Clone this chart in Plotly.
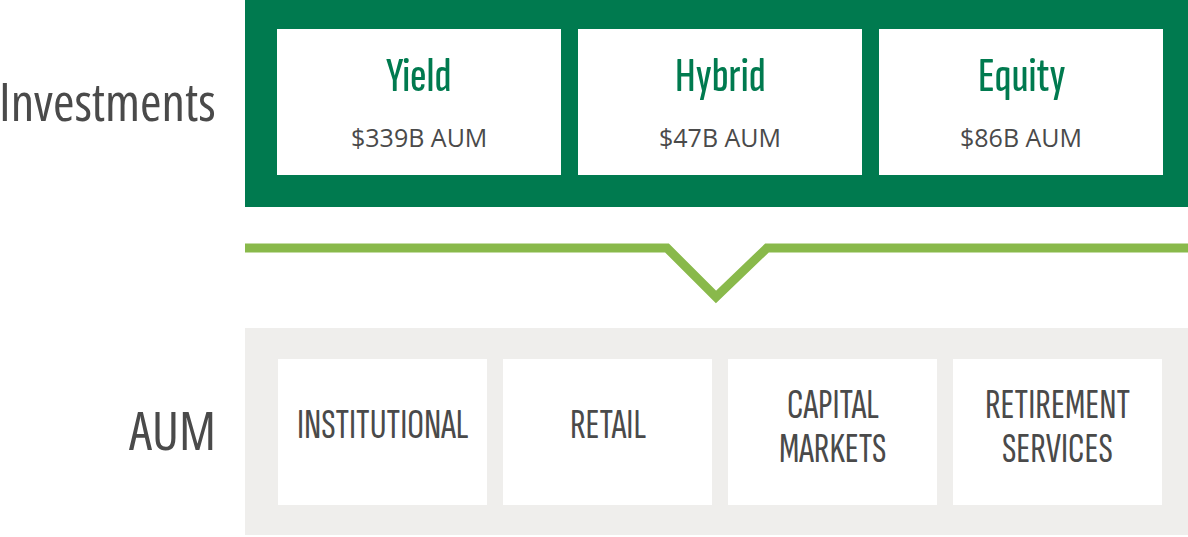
import plotly.graph_objects as go

# ---- data ----
row_labels = ["Investments", "AUM"]
invest_titles = ["Yield", "Hybrid", "Equity"]
invest_aum = ["$339B AUM", "$47B AUM", "$86B AUM"]
channels = ["INSTITUTIONAL", "RETAIL", "CAPITAL<br>MARKETS", "RETIREMENT<br>SERVICES"]

# ---- layout constants (pixels) ----
W, H = 1188, 537
DARK = "#007a4f"
LIGHT = "#89b94b"
GRAY = "#efeeec"
TXT = "#4a4a4a"
COND = "Sofia Sans Extra Condensed, Pathway Gothic One, Roboto Condensed, sans-serif"
HUM = "Open Sans, Noto Sans, sans-serif"

fig = go.Figure()
shapes = []
ann = []

# top green panel
shapes.append(dict(type="rect", x0=245, x1=1188, y0=0, y1=207, fillcolor=DARK, line_width=0, layer="below"))
top_x0 = [277, 578, 879]
box_w = 284
for i, (t, a) in enumerate(zip(invest_titles, invest_aum)):
    x0 = top_x0[i]
    shapes.append(dict(type="rect", x0=x0, x1=x0 + box_w, y0=29, y1=175, fillcolor="white", line_width=0))
    cx = x0 + box_w / 2
    ann.append(dict(x=cx, y=76, text=t, showarrow=False, xanchor="center", yanchor="middle",
                    font=dict(family=COND, size=49, color=DARK, weight=500)))
    ann.append(dict(x=cx, y=137, text=a, showarrow=False, xanchor="center", yanchor="middle",
                    font=dict(family=HUM, size=25, color=TXT)))

# chevron connector
line_y = 248
apex_x, apex_y = 716, 297
fig.add_trace(go.Scatter(
    x=[245, apex_x - (apex_y - line_y), apex_x, apex_x + (apex_y - line_y) + 2, 1188],
    y=[line_y, line_y, apex_y, line_y, line_y],
    mode="lines", line=dict(color=LIGHT, width=9), hoverinfo="skip", showlegend=False))

# bottom gray panel
shapes.append(dict(type="rect", x0=245, x1=1188, y0=328, y1=535, fillcolor=GRAY, line_width=0, layer="below"))
bot_x0 = [278, 503, 728, 953]
bw = 209
for i, c in enumerate(channels):
    x0 = bot_x0[i]
    shapes.append(dict(type="rect", x0=x0, x1=x0 + bw, y0=359, y1=505, fillcolor="white", line_width=0))
    parts = c.split("<br>")
    ys = [425] if len(parts) == 1 else [405, 449]
    for p, yy in zip(parts, ys):
        ann.append(dict(x=x0 + bw / 2, y=yy, text=p, showarrow=False, xanchor="center", yanchor="middle",
                        height=42, font=dict(family=COND, size=42, color=TXT, weight=400)))

# row labels (semi-condensed humanist face)
for lbl, yy in zip(row_labels, [100, 429]):
    ann.append(dict(x=218, y=yy, text="<span style='font-stretch:87.5%'>" + lbl + "</span>",
                    showarrow=False, xanchor="right", yanchor="middle",
                    font=dict(family=HUM, size=52, color=TXT)))

fig.update_layout(
    width=W, height=H, margin=dict(l=0, r=0, t=0, b=0),
    paper_bgcolor="white", plot_bgcolor="white",
    xaxis=dict(range=[0, W], visible=False, fixedrange=True),
    yaxis=dict(range=[H, 0], visible=False, fixedrange=True),
    shapes=shapes, annotations=ann, showlegend=False,
)
fig.write_html("out.html", config={"displayModeBar": False},
               post_script="document.body.style.margin='0';document.body.style.overflow='hidden';")
